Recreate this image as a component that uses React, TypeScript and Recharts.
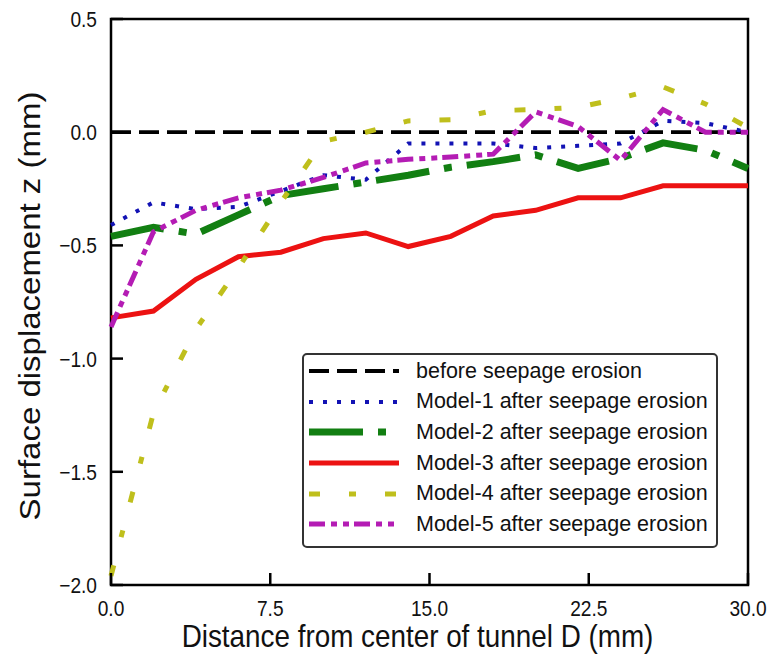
import React from 'react';
import { LineChart, Line, XAxis, YAxis, ReferenceArea, Legend } from 'recharts';

// distance from tunnel centre (mm), sampled every 2 mm
const distance = [0, 2, 4, 6, 8, 10, 12, 14, 16, 18, 20, 22, 24, 26, 28, 30];

// surface displacement z (mm)
const beforeErosion = [0, 0, 0, 0, 0, 0, 0, 0, 0, 0, 0, 0, 0, 0, 0, 0];
const model1 = [-0.41, -0.31, -0.34, -0.33, -0.26, -0.19, -0.21, -0.05, -0.05, -0.05, -0.07, -0.06, -0.05, 0.05, 0.04, 0.0];
const model2 = [-0.46, -0.42, -0.45, -0.365, -0.28, -0.25, -0.22, -0.19, -0.155, -0.13, -0.1, -0.16, -0.115, -0.047, -0.08, -0.16];
const model3 = [-0.82, -0.79, -0.65, -0.55, -0.53, -0.47, -0.445, -0.505, -0.46, -0.37, -0.345, -0.29, -0.29, -0.237, -0.237, -0.237];
const model4 = [-1.96, -1.24, -0.87, -0.6, -0.31, -0.04, 0.0, 0.05, 0.055, 0.095, 0.1, 0.11, 0.15, 0.2, 0.125, 0.02];
const model5 = [-0.86, -0.44, -0.345, -0.29, -0.256, -0.2, -0.136, -0.12, -0.11, -0.097, 0.09, 0.025, -0.125, 0.1, 0.0, 0.0];

const xTicks = [0, 7.5, 15, 22.5, 30];
const yTicks = [-2, -1.5, -1, -0.5, 0, 0.5];

const data = distance.map((x, i) => ({
  x,
  before: beforeErosion[i],
  m1: model1[i],
  m2: model2[i],
  m3: model3[i],
  m4: model4[i],
  m5: model5[i],
}));

const series = [
  { key: 'before', name: 'before seepage erosion', color: '#000000', width: 3.8, dash: '20 8' },
  { key: 'm1', name: 'Model-1 after seepage erosion', color: '#1212b4', width: 4, dash: '4 10' },
  { key: 'm2', name: 'Model-2 after seepage erosion', color: '#127f12', width: 7, dash: '54 15 8 15' },
  { key: 'm3', name: 'Model-3 after seepage erosion', color: '#ec1212', width: 5, dash: undefined },
  { key: 'm4', name: 'Model-4 after seepage erosion', color: '#bfbf1c', width: 5, dash: '11 29 7 29' },
  { key: 'm5', name: 'Model-5 after seepage erosion', color: '#b41cb4', width: 5, dash: '16 6 6 6 6 5' },
];

const FONT = '"Liberation Sans", Arial, Helvetica, sans-serif';
// the source figure is squeezed sideways, so axis text is drawn a bit narrow
const SQUEEZE = 0.87;
const fmt = (v: number) => v.toFixed(1).replace('-', '\u2212');

const YTick = ({ x, y, payload }: any) => (
  <g>
    <line x1={x + 14} x2={x + 26} y1={y} y2={y} stroke="#000" strokeWidth={2.5} />
    <text
      transform={`translate(${x} ${y + 8}) scale(${SQUEEZE} 1)`}
      textAnchor="end"
      fontSize={22}
      fontFamily={FONT}
      fill="#111"
    >
      {fmt(payload.value)}
    </text>
  </g>
);

const XTick = ({ x, y, payload }: any) => (
  <g>
    <line x1={x} x2={x} y1={y} y2={y - 12} stroke="#000" strokeWidth={2.5} />
    <text
      transform={`translate(${x} ${y + 31}) scale(${SQUEEZE} 1)`}
      textAnchor="middle"
      fontSize={22}
      fontFamily={FONT}
      fill="#111"
    >
      {fmt(payload.value)}
    </text>
  </g>
);

const YTitle = ({ viewBox }: any) => {
  const cx = viewBox.x + 30;
  const cy = viewBox.y + viewBox.height / 2 + 4;
  return (
    <text
      transform={`translate(${cx} ${cy}) rotate(-90) scale(1 ${SQUEEZE})`}
      textAnchor="middle"
      dominantBaseline="central"
      fontSize={33}
      fontFamily={FONT}
      fill="#111"
    >
      Surface displacement z (mm)
    </text>
  );
};

const XTitle = ({ viewBox }: any) => (
  <text
    transform={`translate(${viewBox.x + viewBox.width / 2 - 12} ${viewBox.y + 62}) scale(${SQUEEZE} 1)`}
    textAnchor="middle"
    fontSize={32}
    fontFamily={FONT}
    fill="#111"
  >
    Distance from center of tunnel D (mm)
  </text>
);

const LegendBox = () => (
  <div
    style={{
      border: '2.5px solid #333',
      borderRadius: 5,
      background: '#fff',
      padding: '1px 0 6px 0',
      boxSizing: 'border-box',
      width: 416,
      fontFamily: FONT,
    }}
  >
    {series.map((s) => (
      <div key={s.key} style={{ display: 'flex', alignItems: 'center', height: 30.6 }}>
        <svg width={100} height={14} style={{ flex: 'none' }}>
          <line x1={5} x2={95} y1={7} y2={7} stroke={s.color} strokeWidth={s.width} strokeDasharray={s.dash} />
        </svg>
        <span style={{ fontSize: 21.5, marginLeft: 12, color: '#111', whiteSpace: 'nowrap' }}>{s.name}</span>
      </div>
    ))}
  </div>
);

export default function App() {
  return (
    <div style={{ position: 'absolute', left: 0, top: 0, background: '#fff' }}>
      <LineChart width={772} height={664} data={data} margin={{ top: 19, right: 24, left: 0, bottom: 0 }}>
        <XAxis
          dataKey="x"
          type="number"
          domain={[0, 30]}
          ticks={xTicks}
          height={79}
          tickSize={0}
          tickMargin={0}
          tick={<XTick />}
          axisLine={false}
          tickLine={false}
          interval={0}
          label={<XTitle />}
        />
        <YAxis
          type="number"
          domain={[-2, 0.5]}
          ticks={yTicks}
          width={111}
          tickSize={0}
          tickMargin={14}
          tick={<YTick />}
          axisLine={false}
          tickLine={false}
          interval={0}
          allowDataOverflow
          label={<YTitle />}
        />
        {series.map((s) => (
          <Line
            key={s.key}
            type="linear"
            dataKey={s.key}
            name={s.name}
            stroke={s.color}
            strokeWidth={s.width}
            strokeDasharray={s.dash}
            dot={false}
            activeDot={false}
            isAnimationActive={false}
          />
        ))}
        <ReferenceArea x1={0} x2={30} y1={-2} y2={0.5} fill="none" stroke="#000" strokeWidth={2.5} ifOverflow="visible" />
        <Legend
          layout="vertical"
          align="center"
          verticalAlign="middle"
          content={<LegendBox />}
          wrapperStyle={{ left: 302, top: 353, width: 416 }}
        />
      </LineChart>
    </div>
  );
}
